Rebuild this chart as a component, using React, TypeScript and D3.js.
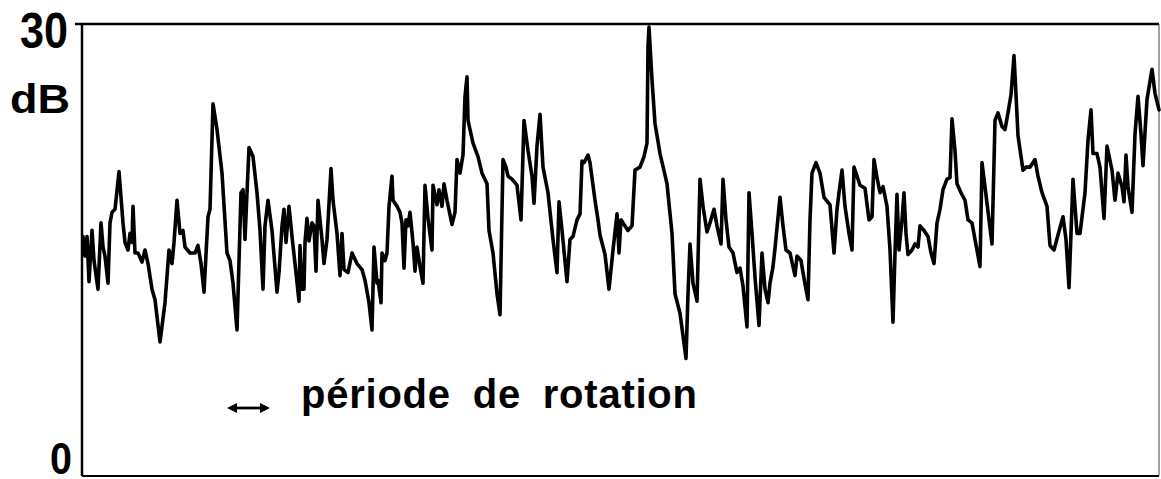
import React from "react";
import * as d3 from "d3";

// y axis ticks (dB) and labels
const yTicks: number[] = [0, 30];
const yUnit = "dB";
const annotation = "période de rotation";

// trace: [time (arbitrary units), level (dB)]
const levelTrace: [number, number][] = [
  [1,15.9],[3,14.6],[5,15.9],[7,12.9],[10,16.3],[12,14.3],[16,12.4],[19,16.8],[21,15.2],[23,14.6],[26,12.8],[28,16.8],[30,17.5],[33,17.7],[37,20.2],[41,16.8],[43,15.5],[46,15.0],[48,16.1],[50,15.5],[51,17.9],[53,14.8],[56,14.8],[60,14.2],[63,15.0],[66,14.1],[70,12.4],[73,11.7],[78,8.9],[83,11.5],[87,15.0],[90,14.1],[92,15.5],[95,18.3],[98,16.1],[101,16.3],[103,15.2],[108,14.8],[113,14.8],[116,15.3],[119,14.1],[122,12.2],[126,17.2],[128,17.7],[131,24.7],[135,23.0],[140,20.1],[145,14.8],[148,14.3],[151,12.8],[155,9.7],[159,18.8],[161,19.0],[163,15.7],[165,18.8],[167,21.8],
  [171,21.2],[175,18.8],[178,16.3],[181,12.4],[183,16.6],[186,18.3],[190,16.3],[195,12.2],[197,13.5],[200,16.6],[202,17.7],[204,15.5],[207,17.9],[210,15.9],[213,14.1],[217,11.6],[218,15.3],[220,12.4],[222,12.4],[223,15.5],[225,17.1],[227,15.6],[230,16.8],[232,16.6],[234,13.6],[236,18.3],[240,15.7],[242,14.1],[245,15.7],[249,20.4],[251,18.3],[255,16.1],[258,13.3],[260,16.1],[262,13.7],[266,13.5],[270,14.8],[275,14.1],[280,13.7],[283,13.0],[287,11.5],[290,9.7],[292,15.2],[295,12.8],[296,13.0],[299,11.5],[300,14.8],[303,14.3],[305,14.8],[307,17.9],[310,19.9],[311,18.3],[315,17.9],[318,17.5],[320,16.8],[322,13.8],[324,17.0],[326,16.6],[328,17.5],[331,15.5],[333,13.6],[335,15.2],[338,13.9],[341,12.8],[343,19.3],
  [346,17.1],[350,15.0],[351,19.3],[355,18.0],[357,19.0],[360,17.9],[362,19.4],[365,18.3],[370,16.7],[373,17.5],[375,21.0],[378,20.1],[381,21.3],[383,25.2],[385,26.5],[386,23.6],[391,22.1],[396,21.2],[400,20.1],[405,19.4],[407,16.3],[411,14.8],[415,12.1],[418,10.7],[421,21.0],[424,20.5],[426,19.9],[430,19.7],[435,19.3],[439,17.0],[442,23.6],[446,21.6],[450,19.9],[452,18.1],[455,21.9],[458,24.0],[461,20.5],[466,18.8],[471,15.7],[475,13.5],[477,18.2],[480,16.3],[485,12.9],[488,15.7],[491,15.9],[495,17.0],[498,17.4],[500,20.9],[502,20.8],[506,21.3],[508,20.8],[513,18.3],[516,17.0],[518,16.0],[523,14.7],[527,12.4],[531,15.0],[535,17.4],[537,14.8],[539,17.0],[543,16.6],[546,16.3],[550,16.6],[553,20.3],[558,20.5],[562,21.2],[565,22.1],[566,28.5],[567,29.8],[570,26.3],[573,23.4],[578,21.4],[585,19.4],[590,16.1],[593,12.1],[598,10.8],[604,7.8],[606,12.1],[608,15.4],[611,12.8],[615,11.6],[618,19.7],[621,17.9],[625,16.2],[628,16.8],[632,17.7],[635,16.6],[639,15.4],[641,19.7],[644,17.0],[647,15.2],[651,14.8],[655,13.5],[658,13.8],[661,12.6],[665,9.9],[667,18.8],[670,16.1],[673,13.2],[677,10.0],[680,14.8],[683,12.4],[686,11.5],[688,12.8],[691,13.9],[693,15.1],[698,18.5],[701,16.6],[704,15.0],[708,14.8],[711,13.9],[713,13.3],[715,14.6],[719,14.3],[721,13.5],[724,12.4],[726,11.7],[728,17.0],[730,20.1],[734,20.8],[738,20.1],[742,18.5],[748,18.0],[752,14.8],[755,17.7],[757,18.8],[760,20.3],[763,17.9],[767,16.1],[770,15.0],[772,20.5],[775,19.9],[778,19.3],[783,19.1],[787,17.0],[790,17.2],[792,21.0],[795,19.8],[798,18.8],[801,19.2],[805,17.9],[808,15.0],[811,10.2],[813,14.8],[815,18.7],[817,15.0],[820,17.0],[822,18.8],[824,16.1],[826,14.7],[830,15.0],[833,15.4],[836,15.2],[838,16.6],[842,16.3],[846,15.9],[849,14.8],[852,14.1],[855,16.8],[858,17.7],[861,19.0],[865,19.7],[868,19.8],[870,23.7],[873,21.6],[875,19.4],[879,18.8],[883,18.3],[886,17.0],[890,16.8],[893,15.7],[898,13.9],[900,20.8],[905,18.1],[910,15.4],[912,20.8],[913,23.6],[916,24.1],[920,23.2],[923,23.0],[926,24.1],[929,25.3],[932,27.9],[934,25.3],[936,22.6],[941,20.3],[944,20.5],[948,20.5],[953,21.0],[956,19.9],[960,18.8],[965,17.9],[968,15.3],[972,15.0],[976,16.0],[981,17.2],[984,15.7],[987,12.5],[991,19.7],[995,16.1],[998,16.1],[1003,18.8],[1006,22.3],[1009,24.3],[1011,21.4],[1015,21.4],[1018,20.5],[1022,17.1],[1025,21.9],[1030,20.3],[1033,18.3],[1036,20.1],[1040,19.2],[1042,18.2],[1044,21.3],[1046,19.2],[1050,17.5],[1053,22.7],[1056,25.2],[1059,22.7],[1061,20.6],[1065,25.0],[1070,27.0],[1073,25.4],[1077,24.3]
];

const W = 1161;
const H = 479;
const left = 82;
const right = 1159;
const top = 24;
const bottom = 476;
const font = "'Liberation Sans', Arial, Helvetica, sans-serif";

export default function App() {
  const x = d3.scaleLinear().domain([0, 1077]).range([left, right]);
  const y = d3.scaleLinear().domain([0, 30]).range([bottom, top]);
  const line = d3
    .line<[number, number]>()
    .x((d) => x(d[0]))
    .y((d) => y(d[1]));

  const ax = 227;
  const bx = 270;
  const ay = 408;

  return (
    <svg
      width={W}
      height={H}
      style={{ position: "absolute", left: 0, top: 0, background: "#fff" }}
    >
      {/* frame */}
      <line x1={75} x2={right} y1={top} y2={top} stroke="#000" strokeWidth={2.5} />
      <line x1={left} x2={left} y1={top} y2={bottom} stroke="#000" strokeWidth={2.5} />
      <line x1={left} x2={right} y1={bottom} y2={bottom} stroke="#000" strokeWidth={2} />
      <line x1={right} x2={right} y1={top} y2={bottom} stroke="#444" strokeWidth={1} />

      {/* tick labels */}
      <text
        x={68}
        y={y(yTicks[1]) + 24}
        textAnchor="end"
        fontFamily={font}
        fontWeight="bold"
        fontSize={50}
        textLength={48}
        lengthAdjust="spacingAndGlyphs"
      >
        {String(yTicks[1])}
      </text>
      <text
        x={70}
        y={113}
        textAnchor="end"
        fontFamily={font}
        fontWeight="bold"
        fontSize={41}
        textLength={60}
        lengthAdjust="spacingAndGlyphs"
      >
        {yUnit}
      </text>
      <text
        x={72}
        y={y(yTicks[0]) - 2}
        textAnchor="end"
        fontFamily={font}
        fontWeight="bold"
        fontSize={44}
        textLength={22}
        lengthAdjust="spacingAndGlyphs"
      >
        {String(yTicks[0])}
      </text>

      {/* trace */}
      <path
        d={line(levelTrace) || ""}
        fill="none"
        stroke="#000"
        strokeWidth={3.6}
        strokeLinejoin="round"
        strokeLinecap="round"
      />

      {/* annotation */}
      <line x1={ax + 6} x2={bx - 6} y1={ay} y2={ay} stroke="#000" strokeWidth={2.8} />
      <path d={`M${ax},${ay} L${ax + 10},${ay - 5} L${ax + 10},${ay + 5} Z`} fill="#000" />
      <path d={`M${bx},${ay} L${bx - 10},${ay - 5} L${bx - 10},${ay + 5} Z`} fill="#000" />
      <text
        x={301}
        y={408}
        fontFamily={font}
        fontWeight="bold"
        fontSize={40}
        wordSpacing={10}
        textLength={396}
        lengthAdjust="spacing"
      >
        {annotation}
      </text>
    </svg>
  );
}
